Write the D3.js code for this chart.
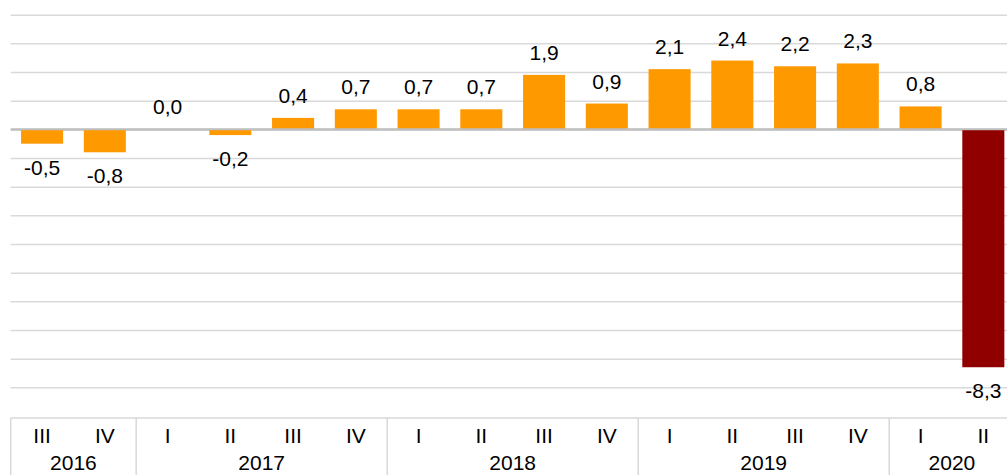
<!DOCTYPE html>
<html>
<head>
<meta charset="utf-8">
<script src="https://cdn.jsdelivr.net/npm/d3@7"></script>
<style>
  html, body { margin: 0; padding: 0; background: #fff; }
  svg { display: block; font-family: "Liberation Sans", Arial, sans-serif; }
</style>
</head>
<body>
<svg id="chart" width="1007" height="475"></svg>
<script>
// ---- data ----
const quarters = ["III", "IV", "I", "II", "III", "IV", "I", "II", "III", "IV", "I", "II", "III", "IV", "I", "II"];
const quarterYears = ["2016", "2016", "2017", "2017", "2017", "2017", "2018", "2018", "2018", "2018", "2019", "2019", "2019", "2019", "2020", "2020"];
const values = [-0.5, -0.8, 0.0, -0.2, 0.4, 0.7, 0.7, 0.7, 1.9, 0.9, 2.1, 2.4, 2.2, 2.3, 0.8, -8.3];
const yTicks = [4, 3, 2, 1, 0, -1, -2, -3, -4, -5, -6, -7, -8, -9];

// ---- layout ----
const W = 1007, H = 475;
const left = 10.7, right = 1014.7;
const yTop = 14.7, yBottom = 387.3;
const axisTop = 418;
const fontSize = 21;
const orange = "#ff9900", darkRed = "#900000";
const gridColor = "#d9d9d9", zeroColor = "#bfbfbf";

const svg = d3.select("#chart");
const idx = d3.range(values.length);

const x = d3.scaleBand().domain(idx).range([left, right]).paddingInner(0.33).paddingOuter(0.165);
const y = d3.scaleLinear().domain([-9, 4]).range([yBottom, yTop]);

// gridlines via axis
const grid = svg.append("g")
  .attr("transform", `translate(${left},0)`)
  .call(d3.axisRight(y).tickValues(yTicks).tickSize(right - left).tickFormat(""));
grid.select(".domain").remove();
grid.selectAll(".tick line")
  .attr("stroke", d => d === 0 ? zeroColor : gridColor)
  .attr("stroke-width", d => d === 0 ? 2 : 1.5);

// bars
const lastIdx = values.length - 1;
svg.append("g").selectAll("rect")
  .data(idx)
  .join("rect")
  .attr("x", i => x(i))
  .attr("width", x.bandwidth())
  .attr("y", i => y(Math.max(0, values[i])))
  .attr("height", i => Math.abs(y(values[i]) - y(0)))
  .attr("fill", i => i === lastIdx ? darkRed : orange);

// zero line on top of bars
svg.append("line")
  .attr("x1", left).attr("x2", right)
  .attr("y1", y(0)).attr("y2", y(0))
  .attr("stroke", zeroColor).attr("stroke-width", 2);

// value labels
const fmt = v => d3.format(".1f")(v).replace(".", ",").replace("−", "-");
svg.append("g").selectAll("text")
  .data(idx)
  .join("text")
  .attr("x", i => x(i) + x.bandwidth() / 2)
  .attr("y", i => values[i] >= 0 ? y(values[i]) - 15 : y(values[i]) + 31)
  .attr("text-anchor", "middle")
  .attr("font-size", fontSize)
  .attr("fill", "#000")
  .text(i => fmt(values[i]));

// category axis box
const axisG = svg.append("g");
axisG.append("line")
  .attr("x1", left).attr("x2", right)
  .attr("y1", axisTop).attr("y2", axisTop)
  .attr("stroke", gridColor).attr("stroke-width", 1.5);

// year groups
const groups = [];
quarterYears.forEach((yr, i) => {
  const g = groups.length ? groups[groups.length - 1] : null;
  if (g && g.year === yr) g.end = i;
  else groups.push({ year: yr, start: i, end: i });
});
const step = x.step();
const bandStart = i => x(i) - x.paddingOuter() * step;

const bounds = groups.map(g => bandStart(g.start)).concat([bandStart(lastIdx) + step]);
axisG.selectAll("line.sep")
  .data(bounds)
  .join("line")
  .attr("class", "sep")
  .attr("x1", d => d).attr("x2", d => d)
  .attr("y1", axisTop).attr("y2", H)
  .attr("stroke", gridColor).attr("stroke-width", 1.5);

// quarter labels
axisG.selectAll("text.q")
  .data(idx)
  .join("text")
  .attr("class", "q")
  .attr("x", i => x(i) + x.bandwidth() / 2)
  .attr("y", 443)
  .attr("text-anchor", "middle")
  .attr("font-size", fontSize)
  .attr("fill", "#000")
  .text(i => quarters[i]);

// year labels
axisG.selectAll("text.yr")
  .data(groups)
  .join("text")
  .attr("class", "yr")
  .attr("x", g => (bandStart(g.start) + bandStart(g.end) + step) / 2)
  .attr("y", 470)
  .attr("text-anchor", "middle")
  .attr("font-size", fontSize)
  .attr("fill", "#000")
  .text(g => g.year);
</script>
</body>
</html>
